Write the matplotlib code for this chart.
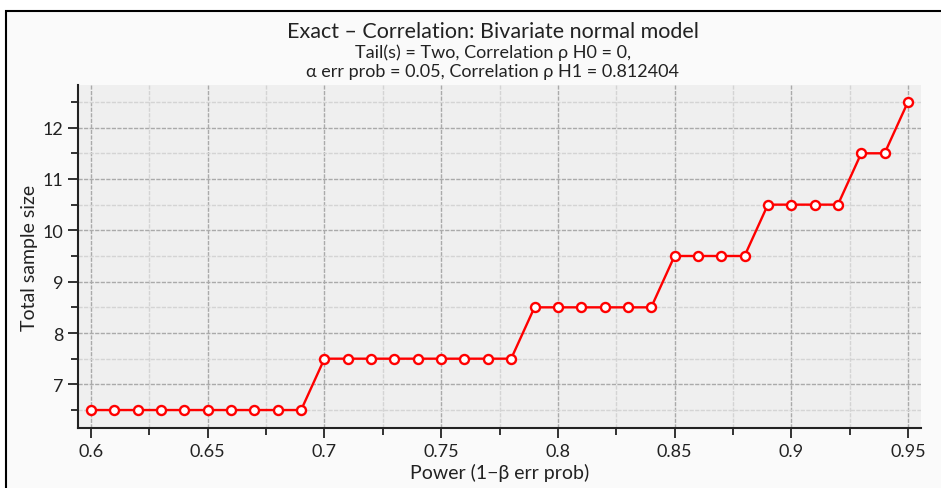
import matplotlib
matplotlib.use("Agg")
import matplotlib.pyplot as plt
from matplotlib.patches import Rectangle
from matplotlib.ticker import MultipleLocator

power = [0.60, 0.61, 0.62, 0.63, 0.64, 0.65, 0.66, 0.67, 0.68, 0.69,
         0.70, 0.71, 0.72, 0.73, 0.74, 0.75, 0.76, 0.77, 0.78,
         0.79, 0.80, 0.81, 0.82, 0.83, 0.84,
         0.85, 0.86, 0.87, 0.88,
         0.89, 0.90, 0.91, 0.92,
         0.93, 0.94, 0.95]
sample_size = [6.5]*10 + [7.5]*9 + [8.5]*6 + [9.5]*4 + [10.5]*4 + [11.5]*2 + [12.5]
x_ticks = [0.6, 0.65, 0.7, 0.75, 0.8, 0.85, 0.9, 0.95]
x_labels = ["0.6", "0.65", "0.7", "0.75", "0.8", "0.85", "0.9", "0.95"]
y_ticks = [7, 8, 9, 10, 11, 12]

plt.rcParams['font.family'] = ['Lato', 'DejaVu Sans']

fig = plt.figure(figsize=(9.41, 4.89), dpi=100)
fig.patch.set_facecolor("white")
W, H = 941, 489
bg = Rectangle((6 / W, -0.1), 1.0, 1 - 12 / H + 0.1, transform=fig.transFigure,
               facecolor="#fafafa", edgecolor="black", linewidth=1.5, zorder=-5)
fig.add_artist(bg)

ax = fig.add_axes([78 / W, 1 - 429 / H, (921 - 78) / W, (429 - 86) / H])
ax.set_zorder(1)
ax.set_facecolor("#efefef")
ax.plot(power, sample_size, color="red", linewidth=1.7, marker="o", markersize=6.5,
        markerfacecolor="white", markeredgecolor="red", markeredgewidth=1.7, zorder=3)

ax.set_xlim(0.5944, 0.9556)
ax.set_ylim(6.15, 12.83)
ax.set_xticks(x_ticks)
ax.set_xticklabels(x_labels)
ax.xaxis.set_minor_locator(MultipleLocator(0.025))
ax.set_yticks(y_ticks)
ax.yaxis.set_minor_locator(MultipleLocator(0.5))

for s in ["top", "right"]:
    ax.spines[s].set_visible(False)
for s in ["left", "bottom"]:
    ax.spines[s].set_color("#222222")
    ax.spines[s].set_linewidth(1.5)

ax.tick_params(which="major", direction="out", length=7, width=1.3, color="#222222",
               labelsize=13, labelcolor="#222222")
ax.tick_params(which="minor", direction="out", length=5, width=1.3, color="#222222")
ax.grid(which="major", color="#aaaaaa", linestyle=(0, (3, 1)), linewidth=1.0)
ax.grid(which="minor", color="#d4d4d4", linestyle=(0, (3, 1)), linewidth=1.0)
ax.set_axisbelow(True)

ax.set_xlabel("Power (1\u2212\u03b2 err prob)", fontsize=14, color="#222222", labelpad=3)
ax.set_ylabel("Total sample size", fontsize=14, color="#222222", labelpad=3)

cx = 493 / W
fig.text(cx, 1 - 32 / H, "Exact \u2013 Correlation: Bivariate normal model", ha="center", va="center",
         fontsize=15.5, color="#222222")
fig.text(cx, 1 - 53 / H, "Tail(s) = Two, Correlation \u03c1 H0 = 0,", ha="center", va="center",
         fontsize=13, color="#222222")
fig.text(cx, 1 - 72 / H, "\u03b1 err prob = 0.05, Correlation \u03c1 H1 = 0.812404", ha="center", va="center",
         fontsize=13, color="#222222")

fig.savefig("out.png", dpi=100)
